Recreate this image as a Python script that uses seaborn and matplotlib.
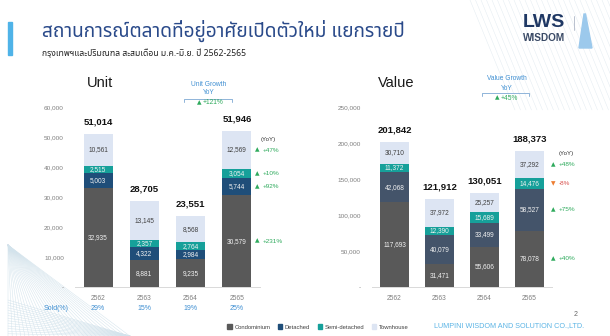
import numpy as np
import pandas as pd
import matplotlib
matplotlib.use("Agg")
import matplotlib.pyplot as plt
from matplotlib import font_manager
from matplotlib.ft2font import FT2Font
from matplotlib.patches import Rectangle, Polygon
from matplotlib.lines import Line2D
import matplotlib.transforms as mtrans
import seaborn as sns

# ---------------- data ----------------
years = ["2562", "2563", "2564", "2565"]
segments = ["Condominium", "Detached", "Semi-detached", "Townhouse"]

unit_condo = [32935, 8881, 9235, 30579]
unit_detached = [5003, 4322, 2984, 5744]
unit_semi = [2515, 2357, 2764, 3054]
unit_town = [10561, 13145, 8568, 12569]
unit_total = [51014, 28705, 23551, 51946]
unit_yoy = ["+231%", "+92%", "+10%", "+47%"]      # 2565 vs 2564, per segment
unit_growth = "+121%"
sold_pct = ["29%", "15%", "19%", "25%"]

value_condo = [117693, 31471, 55606, 78078]
value_detached = [42068, 40079, 33499, 58527]
value_semi = [11372, 12390, 15689, 14476]
value_town = [30710, 37972, 25257, 37292]
value_total = [201842, 121912, 130051, 188373]
value_yoy = ["+40%", "+75%", "-8%", "+48%"]
value_growth = "+45%"

unit_ticks = [0, 10000, 20000, 30000, 40000, 50000, 60000]
value_ticks = [0, 50000, 100000, 150000, 200000, 250000]

# ---------------- style ----------------
W, H = 610, 336
sns.set_style("white")
plt.rcParams["font.family"] = ["Liberation Sans", "DejaVu Sans"]

C_CONDO = "#595959"
C_DET_U = "#1f4e79"
C_DET_V = "#44546a"
C_SEMI = "#16a09a"
C_TOWN = "#dde5f3"
C_GREEN = "#2eaa5c"
C_RED = "#d9534f"
C_ORANGE = "#ed7d31"
C_BLUE_TXT = "#3f8fd2"
C_GRAY = "#7f7f7f"
C_AXIS = "#d9d9d9"
C_HATCH = "#d3e3ec"


def thai_family():
    """Pick an installed font that carries Thai glyphs."""
    cands = []
    for f in font_manager.fontManager.ttflist:
        try:
            cmap = FT2Font(f.fname).get_charmap()
        except Exception:
            continue
        if 0x0E2A in cmap and 0x0E13 in cmap and 0x0E1B in cmap:
            cands.append(f.name)
    if not cands:
        return ["DejaVu Sans"]
    cands.sort(key=lambda n: (("Thai" not in n), ("Noto" not in n), n))
    return [cands[0], "DejaVu Sans"]


THAI = thai_family()

fig = plt.figure(figsize=(W / 100, H / 100), dpi=100)
fig.patch.set_facecolor("white")


def fx(x):
    return x / W


def fy(y):
    return 1 - y / H


# faint line-pattern decoration in the corners
for k in range(30):
    fig.add_artist(Line2D([fx(8), fx(8 + k * 4.2)], [fy(245), fy(336)],
                          color=C_HATCH, lw=0.35, zorder=0))
for k in range(14):
    fig.add_artist(Line2D([fx(8), fx(130)], [fy(300 + k * 2.6), fy(336)],
                          color=C_HATCH, lw=0.35, zorder=0))
for k in range(26):
    x0 = 470 + k * 5.5
    fig.add_artist(Line2D([fx(x0), fx(x0 + 45)], [fy(0), fy(110)],
                          color="#e3ebf1", lw=0.35, zorder=0))


def make_axes(x0, x1):
    return fig.add_axes([fx(x0), fy(287), (x1 - x0) / W, 180 / H])


def stacked(ax, layers, colors, txt_colors, totals, ymax, ticks):
    cum = np.cumsum(np.array(layers, dtype=float), axis=0)
    for i in range(len(layers) - 1, -1, -1):
        df = pd.DataFrame({"year": years, "v": cum[i]})
        sns.barplot(data=df, x="year", y="v", order=years, color=colors[i],
                    width=0.63, saturation=1, linewidth=0, errorbar=None, ax=ax)
    for i, layer in enumerate(layers):
        for j, v in enumerate(layer):
            ax.text(j, cum[i][j] - v / 2, f"{v:,}", ha="center", va="center",
                    fontsize=4.7, color=txt_colors[i])
    off = ymax * 12 / 180
    for j, t in enumerate(totals):
        ax.text(j, cum[-1][j] + off, f"{t:,}", ha="center", va="center",
                fontsize=6.8, fontweight="bold", color="#111111")
    ax.set_xlim(-0.5, 3.5)
    ax.set_ylim(0, ymax)
    ax.set_xlabel("")
    ax.set_ylabel("")
    for s in ["top", "right", "left"]:
        ax.spines[s].set_visible(False)
    ax.spines["bottom"].set_color(C_AXIS)
    ax.spines["bottom"].set_linewidth(0.7)
    ax.set_yticks(ticks)
    ax.set_yticklabels(["-" if t == 0 else f"{t:,}" for t in ticks])
    ax.tick_params(axis="y", length=0, pad=8, labelsize=4.6, labelcolor=C_GRAY)
    ax.tick_params(axis="x", which="major", length=0, pad=6, labelsize=4.8,
                   labelcolor=C_GRAY)
    ax.set_xticks([0.5, 1.5, 2.5], minor=True)
    ax.tick_params(axis="x", which="minor", length=3, color=C_AXIS, width=0.6)
    ax.grid(False)
    ax.set_facecolor("none")
    return cum


def yoy_column(ax, cum, layers, labels, x0, head_xy):
    j = len(years) - 1
    for i, lab in enumerate(labels):
        yc = cum[i][j] - layers[i][j] / 2
        neg = lab.startswith("-")
        ax.text(x0, yc, "▼" if neg else "▲", ha="left", va="center",
                fontsize=4.2, color=C_ORANGE if neg else C_GREEN,
                family=["DejaVu Sans"])
        ax.annotate(lab, (x0, yc), xytext=(5.6, 0), textcoords="offset points",
                    ha="left", va="center", fontsize=4.6,
                    color=C_RED if neg else C_GREEN)
    ax.text(head_xy[0], head_xy[1], "(YoY)", ha="center", va="center",
            fontsize=4.4, color="#333333")


# ---------------- Unit chart ----------------
ax1 = make_axes(75, 260)
u_layers = [unit_condo, unit_detached, unit_semi, unit_town]
cum_u = stacked(ax1, u_layers, [C_CONDO, C_DET_U, C_SEMI, C_TOWN],
                ["#f2f2f2", "#f2f2f2", "#f2f2f2", "#404040"],
                unit_total, 60000, unit_ticks)
yoy_column(ax1, cum_u, u_layers, unit_yoy, 3.39, (3.67, 49000))

trans1 = mtrans.blended_transform_factory(ax1.transData, fig.transFigure)
for j, p in enumerate(sold_pct):
    ax1.text(j, fy(308), p, transform=trans1, ha="center", va="center",
             fontsize=5, color=C_BLUE_TXT)
fig.text(fx(56), fy(308), "Sold(%)", ha="center", va="center",
         fontsize=5, color=C_BLUE_TXT)

# ---------------- Value chart ----------------
ax2 = make_axes(372, 552)
v_layers = [value_condo, value_detached, value_semi, value_town]
cum_v = stacked(ax2, v_layers, [C_CONDO, C_DET_V, C_SEMI, C_TOWN],
                ["#f2f2f2", "#f2f2f2", "#f2f2f2", "#404040"],
                value_total, 250000, value_ticks)
yoy_column(ax2, cum_v, v_layers, value_yoy, 3.48, (3.82, 186000))

# ---------------- panel headings & growth boxes ----------------
fig.text(fx(87), fy(83), "Unit", ha="left", va="center", fontsize=10.5,
         color="#1a1a1a")
fig.text(fx(378), fy(83), "Value", ha="left", va="center", fontsize=10.5,
         color="#1a1a1a")


def growth_box(cx, x0, x1, y_title, y_yoy, y_line, y_val, title, val):
    fig.text(fx(cx), fy(y_title), title, ha="center", va="center",
             fontsize=4.8, color=C_BLUE_TXT)
    fig.text(fx(cx), fy(y_yoy), "YoY", ha="center", va="center",
             fontsize=4.8, color=C_BLUE_TXT)
    xs = [fx(x0), fx(x0), fx(x1), fx(x1)]
    ys = [fy(y_line + 3), fy(y_line), fy(y_line), fy(y_line + 3)]
    fig.add_artist(Line2D(xs, ys, color="#8fb4d9", lw=0.7))
    fig.text(fx(cx - 10), fy(y_val), "▲", ha="center", va="center",
             fontsize=4.2, color=C_GREEN, family=["DejaVu Sans"])
    fig.text(fx(cx - 6), fy(y_val), val, ha="left", va="center",
             fontsize=4.8, color=C_GREEN)


growth_box(209, 184, 232, 84, 92.7, 99, 102.5, "Unit Growth", unit_growth)
growth_box(507, 482, 529, 79, 88, 92.7, 98, "Value Growth", value_growth)

# ---------------- legend ----------------
handles = [Rectangle((0, 0), 1, 1, color=c)
           for c in [C_CONDO, C_DET_U, C_SEMI, C_TOWN]]
fig.legend(handles, segments, loc="center", bbox_to_anchor=(fx(318), fy(327)),
           ncol=4, frameon=False, fontsize=4.2, handlelength=0.75,
           handleheight=0.75, columnspacing=1.3, handletextpad=0.45,
           labelcolor="#404040")

# ---------------- header ----------------
fig.add_artist(Rectangle((fx(8), fy(55)), 4 / W, 33 / H, color="#4fb3e8",
                         transform=fig.transFigure))
title = fig.text(fx(42), fy(31), "สถานการณ์ตลาดที่อยู่อาศัยเปิดตัวใหม่ แยกรายปี",
                 ha="left", va="center", fontsize=15, color="#2a4a8a",
                 family=THAI)
subtitle = fig.text(fx(42), fy(53),
                    "กรุงเทพฯและปริมณฑล สะสมเดือน ม.ค.-มิ.ย. ปี 2562-2565",
                    ha="left", va="center", fontsize=6.5, color="#222222",
                    family=THAI)

# logo
fig.text(fx(523), fy(22.5), "LWS", ha="left", va="center", fontsize=14,
         fontweight="bold", color="#1f3864")
fig.text(fx(523), fy(38), "WISDOM", ha="left", va="center", fontsize=7.2,
         fontweight="bold", color="#3a4a66")
fig.add_artist(Line2D([fx(574), fx(574)], [fy(16), fy(30)], color="#b0b8c8",
                      lw=0.6))
fig.add_artist(Polygon([[fx(579), fy(48)], [fx(584), fy(14)],
                        [fx(585.5), fy(14)], [fx(592), fy(48)]],
                       closed=True, color="#9cc9ec",
                       transform=fig.transFigure))

# footer
fig.text(fx(509), fy(326), "LUMPINI WISDOM AND SOLUTION CO.,LTD.",
         ha="center", va="center", fontsize=5.2, color="#5bb4e5")
fig.text(fx(576), fy(314), "2", ha="center", va="center", fontsize=5,
         color="#666666")

# fit the header texts to their widths
fig.canvas.draw()
r = fig.canvas.get_renderer()
for t, target in [(title, 363), (subtitle, 203)]:
    w = t.get_window_extent(r).width
    if w > 0:
        t.set_fontsize(t.get_fontsize() * target / w)

fig.savefig("out.png", dpi=100, facecolor="white")
